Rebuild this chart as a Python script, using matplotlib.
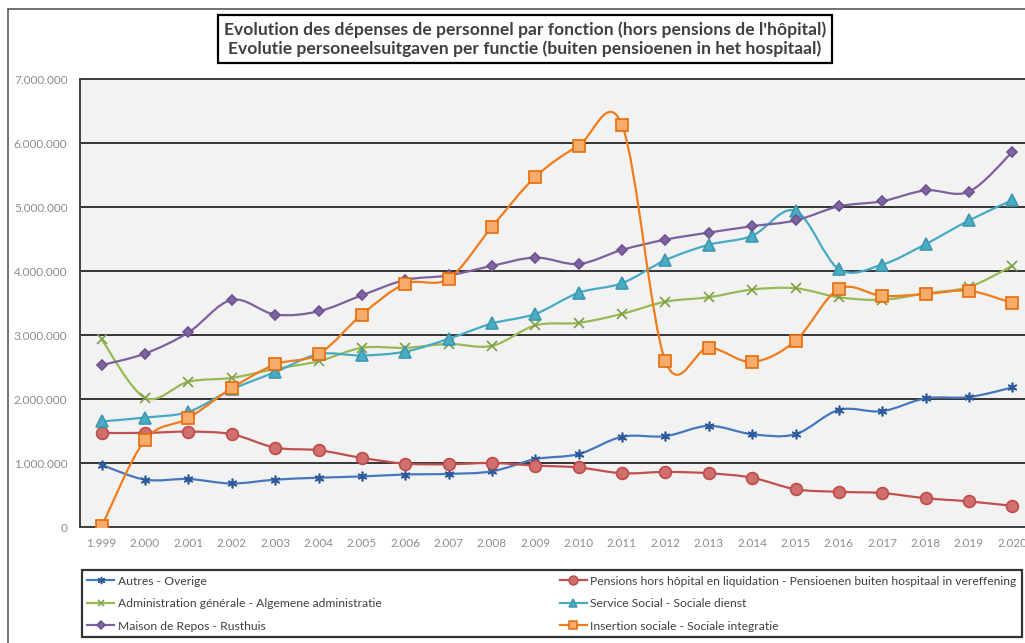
import numpy as np
import matplotlib
matplotlib.use("Agg")
import matplotlib.pyplot as plt
from matplotlib.path import Path
from matplotlib.patches import PathPatch, Rectangle
from matplotlib.lines import Line2D
from matplotlib.ticker import FuncFormatter

plt.rcParams['font.family'] = ['Lato', 'DejaVu Sans']

# data (values in millions of euros)
years = ['1.999', '2.000', '2.001', '2.002', '2.003', '2.004', '2.005', '2.006',
         '2.007', '2.008', '2.009', '2.010', '2.011', '2.012', '2.013', '2.014',
         '2.015', '2.016', '2.017', '2.018', '2.019', '2.020']

autres = [0.97, 0.74, 0.75, 0.68, 0.74, 0.77, 0.79, 0.82, 0.83, 0.87, 1.06,
          1.14, 1.41, 1.42, 1.58, 1.45, 1.45, 1.83, 1.81, 2.01, 2.03, 2.18]
pensions = [1.47, 1.47, 1.49, 1.45, 1.24, 1.20, 1.08, 0.99, 0.98, 1.00, 0.96,
            0.93, 0.84, 0.86, 0.84, 0.77, 0.59, 0.55, 0.53, 0.45, 0.40, 0.33]
admin = [2.93, 2.02, 2.27, 2.33, 2.47, 2.59, 2.80, 2.80, 2.86, 2.83, 3.15,
         3.19, 3.33, 3.52, 3.59, 3.71, 3.73, 3.59, 3.55, 3.65, 3.75, 4.08]
service = [1.65, 1.71, 1.80, 2.15, 2.42, 2.70, 2.68, 2.74, 2.94, 3.18, 3.33,
           3.66, 3.81, 4.17, 4.41, 4.55, 4.94, 4.03, 4.10, 4.42, 4.79, 5.11]
repos = [2.53, 2.71, 3.04, 3.55, 3.32, 3.37, 3.62, 3.86, 3.93, 4.08, 4.21,
         4.11, 4.33, 4.49, 4.60, 4.70, 4.79, 5.01, 5.09, 5.26, 5.24, 5.86]
insertion = [0.01, 1.36, 1.70, 2.17, 2.54, 2.70, 3.32, 3.80, 3.88, 4.69, 5.47,
             5.96, 6.28, 2.59, 2.80, 2.58, 2.91, 3.72, 3.61, 3.64, 3.69, 3.50]

labels = ['Autres - Overige',
          'Pensions hors hôpital en liquidation - Pensioenen buiten hospitaal in vereffening',
          'Administration générale - Algemene administratie',
          'Service Social - Sociale dienst',
          'Maison de Repos - Rusthuis',
          'Insertion sociale - Sociale integratie']

# style per series: line colour, marker, marker size, face, edge
styles = [
    ('#4677bd', (6, 2, 0), 7, '#2e5a9c', '#2e5a9c'),
    ('#c0504d', 'o', 8.5, '#d0706e', '#be4b48'),
    ('#98b954', 'x', 6.5, '#7f9f45', '#7f9f45'),
    ('#46aac5', '^', 8, '#4bacc6', '#3c98b0'),
    ('#7d60a0', 'D', 5.5, '#8064a2', '#6d5290'),
    ('#f07c1c', 's', 8.5, '#f8ac6c', '#e46c0a'),
]
series = [autres, pensions, admin, service, repos, insertion]


def smooth_path(x, y):
    # catmull-rom style bezier, similar to excel "smoothed line"
    p = np.column_stack([x, y])
    n = len(p)
    verts = [p[0]]
    codes = [Path.MOVETO]
    for i in range(n - 1):
        p0 = p[max(i - 1, 0)]
        p1 = p[i]
        p2 = p[i + 1]
        p3 = p[min(i + 2, n - 1)]
        c1 = p1 + (p2 - p0) / 6.0
        c2 = p2 - (p3 - p1) / 6.0
        verts += [c1, c2, p2]
        codes += [Path.CURVE4] * 3
    return Path(verts, codes)


fig = plt.figure(figsize=(10.25, 6.43), dpi=100)
W, H = 1025.0, 643.0

# outer chart border
fig.patches.append(Rectangle((8 / W, -0.02), 1.05, 1 - 9 / H + 0.02, transform=fig.transFigure,
                             fill=False, ec='#595959', lw=1.2))

ax = fig.add_axes([80 / W, 1 - 527 / H, (1034 - 80) / W, (527 - 79) / H])
ax.set_facecolor('#f2f2f2')

x = np.arange(len(years))
handles = []
for vals, (lc, mk, ms, fc, ec), lab in zip(series, styles, labels):
    v = np.array(vals) * 1e6
    ax.add_patch(PathPatch(smooth_path(x, v), fill=False, ec=lc, lw=1.6, zorder=3,
                           capstyle='round', joinstyle='round'))
    ax.plot(x, v, linestyle='none', marker=mk, ms=ms, mfc=fc, mec=ec, mew=1.2, zorder=4)
    handles.append(Line2D([], [], color=lc, lw=1.6, marker=mk, ms=ms * 0.75, mfc=fc, mec=ec,
                          mew=1.1, label=lab))

ax.set_xlim(-0.5, len(years) - 0.5)
ax.set_ylim(0, 7e6)
ax.set_xticks(x)
ax.set_xticklabels(years)
ax.set_yticks(np.arange(0, 7.5e6, 1e6))
ax.yaxis.set_major_formatter(FuncFormatter(lambda v, p: f'{int(round(v)):,}'.replace(',', '.')))
ax.tick_params(length=0, labelsize=8.5, labelcolor='#8c8c8c')
ax.tick_params(axis='y', pad=9)
ax.tick_params(axis='x', pad=8)
ax.grid(axis='y', color='#262626', lw=1.3)
ax.set_axisbelow(True)
for s in ['left', 'top', 'bottom']:
    ax.spines[s].set_color('#404040')
    ax.spines[s].set_linewidth(1.4)
ax.spines['right'].set_visible(False)

# title in a box
fig.text(525 / W, 1 - 39 / H,
         "Evolution des dépenses de personnel par fonction (hors pensions de l'hôpital)\n"
         "Evolutie personeelsuitgaven per functie (buiten pensioenen in het hospitaal)",
         ha='center', va='center', fontsize=12.6, fontweight='bold', color='#404040',
         linespacing=1.2,
         bbox=dict(boxstyle='square,pad=0.32', fc='white', ec='black', lw=1.6))

# legend, two columns
order = [0, 2, 4, 1, 3, 5]
leg = fig.legend([handles[i] for i in order], [labels[i] for i in order], ncol=2,
                 loc='lower left', mode='expand',
                 bbox_to_anchor=(82 / W, 1 - 637 / H, 940 / W, 71 / H),
                 fontsize=8.7, frameon=True, fancybox=False, edgecolor='black',
                 handlelength=2.2, handletextpad=0.3, borderaxespad=0,
                 labelspacing=0.95, borderpad=0.45)
leg.get_frame().set_linewidth(1.6)
for t in leg.get_texts():
    t.set_color('#404040')

fig.savefig('out.png', dpi=100, facecolor='white')
